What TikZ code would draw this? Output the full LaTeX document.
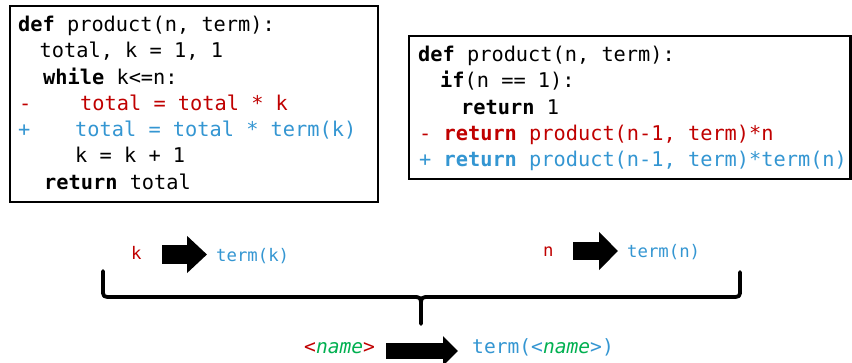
\documentclass[tikz,border=0pt]{standalone}
\usepackage{fontspec}
\setmonofont{DejaVu Sans Mono}
\usetikzlibrary{arrows.meta}
\definecolor{cred}{RGB}{192,0,0}
\definecolor{cblue}{RGB}{52,150,210}
\definecolor{cgreen}{RGB}{0,176,80}
\begin{document}
\begin{tikzpicture}[x=1pt,y=-1pt,
  code/.style={anchor=base west, inner sep=0pt, font=\fontsize{20.3}{24}\selectfont\ttfamily},
  small/.style={anchor=base west, inner sep=0pt, font=\fontsize{17.3}{20}\selectfont\ttfamily},
  big/.style={anchor=base west, inner sep=0pt, font=\fontsize{19.6}{22}\selectfont\ttfamily},
  boxline/.style={line width=2.5pt, draw=black},
  bracepath/.style={line width=3.8pt, line cap=round, line join=round},
]
\fill[white] (0,0) rectangle (852,363);
\useasboundingbox (0,0) rectangle (852,363);

% left code box
\draw[boxline] (10,6) rectangle (378,202);
\node[code] (l1) at (18,31.5) {\textbf{def} product(n, term):};
\node[code] (l2) at (39.5,57.8) {total, k = 1, 1};
\node[code] (l3) at (43,84.1) {\textbf{while} k<=n:};
\node[code, text=cred] (l4m) at (19,110.4) {-};
\node[code, text=cred] (l4) at (80,110.4) {total = total * k};
\node[code, text=cblue] (l5p) at (18,136.7) {+};
\node[code, text=cblue] (l5) at (75,136.7) {total = total * term(k)};
\node[code] (l6) at (75,163) {k = k + 1};
\node[code] (l7) at (44,189.3) {\textbf{return} total};

% right code box
\draw[boxline] (409,36) rectangle (850.5,179);
\node[code] (r1) at (418,61.5) {\textbf{def} product(n, term):};
\node[code] (r2) at (440,87.8) {\textbf{if}(n == 1):};
\node[code] (r3) at (461,114.1) {\textbf{return} 1};
\node[code, text=cred] (r4) at (419,140.4) {- \textbf{return} product(n-1, term)*n};
\node[code, text=cblue] (r5) at (419,166.7) {+ \textbf{return} product(n-1, term)*term(n)};

% small mappings
\node[small, text=cred] (k) at (131,260) {k};
\node[small, text=cblue] (tk) at (216,262) {term(k)};
\node[small, text=cred] (n) at (543,257) {n};
\node[small, text=cblue] (tn) at (627,258) {term(n)};

\coordinate (a1s) at (162,254.5); \coordinate (a1e) at (207,254.5);
\draw[line width=19pt, -{Triangle[length=20pt,width=36pt]}] (a1s) -- (a1e);
\coordinate (a2s) at (573,251); \coordinate (a2e) at (618,251);
\draw[line width=18pt, -{Triangle[length=19pt,width=37pt]}] (a2s) -- (a2e);

% brace
\coordinate (bl) at (103,271);
\coordinate (br) at (740,272);
\coordinate (bm) at (421,324);
\draw[bracepath] (bl) -- (103,289) .. controls (103,297) .. (112,297) -- (412,297)
  .. controls (421,297) .. (421,306) -- (bm);
\draw[bracepath] (br) -- (740,289) .. controls (740,297) .. (731,297) -- (430,297)
  .. controls (421,297) .. (421,306);

% general mapping
\node[big] (nm) at (304,354) {\textcolor{cred}{<}\textcolor{cgreen}{\itshape name}\textcolor{cred}{>}};
\node[big, text=cblue] (tnm) at (472,354) {term(<\textcolor{cgreen}{\itshape name}>)};
\coordinate (a3s) at (386,351); \coordinate (a3e) at (458,351);
\draw[line width=16pt, -{Triangle[length=15pt,width=29pt]}] (a3s) -- (a3e);
\end{tikzpicture}
\end{document}
